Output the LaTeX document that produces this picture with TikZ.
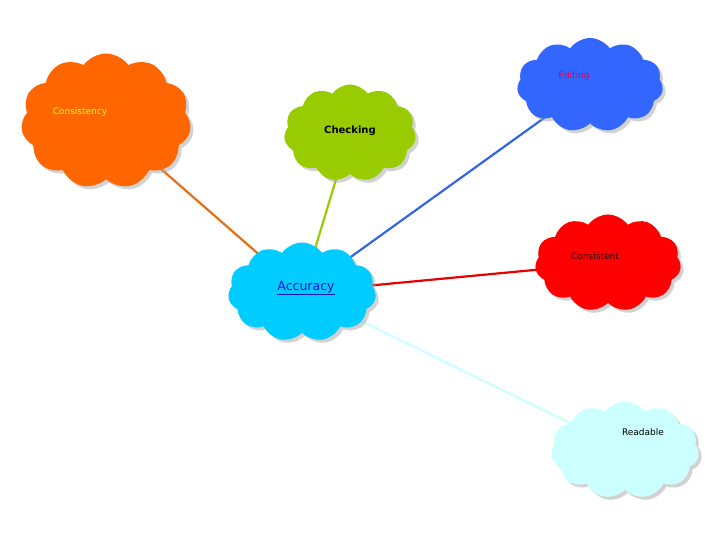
\documentclass[tikz,border=0pt]{standalone}
\usepackage{fontspec}
\setmainfont{DejaVu Sans}
\usetikzlibrary{shapes.symbols,shadows,backgrounds}
\definecolor{cOr}{RGB}{255,102,0}
\definecolor{cGr}{RGB}{153,204,0}
\definecolor{cBl}{RGB}{51,102,255}
\definecolor{cRd}{RGB}{255,0,0}
\definecolor{cCy}{RGB}{0,204,255}
\definecolor{cLc}{RGB}{204,255,255}
\definecolor{lOr}{RGB}{230,110,20}
\definecolor{lBl}{RGB}{51,102,230}
\definecolor{lRd}{RGB}{230,0,0}
\definecolor{tYe}{RGB}{255,255,0}
\definecolor{tMa}{RGB}{230,0,80}
\definecolor{tDk}{RGB}{60,0,0}
\definecolor{tAc}{RGB}{20,20,200}
\begin{document}
\begin{tikzpicture}[x=1pt,y=-1pt,
  cl/.style={cloud,cloud puffs=11,cloud puff arc=110,draw=none,fill=#1,
    drop shadow={shadow xshift=3pt,shadow yshift=-3pt,fill=gray!70}},
  ln/.style={line width=2.2pt,draw=#1},
  tx/.style={font=\fontsize{9}{11}\selectfont}]
\useasboundingbox (0,0) rectangle (720,540);
\node[cl=cOr,minimum width=170pt,minimum height=135pt] (cons) at (106,121) {};
\node[cl=cGr,minimum width=132pt,minimum height=97pt] (chk) at (350,133) {};
\node[cl=cBl,minimum width=146pt,minimum height=94pt] (edit) at (590,85) {};
\node[cl=cRd,minimum width=146pt,minimum height=97pt] (cst) at (608,263) {};
\node[cl=cCy,minimum width=148pt,minimum height=99pt] (acc) at (302,292) {};
\node[cl=cLc,minimum width=148pt,minimum height=97pt] (read) at (625,450) {};
\begin{pgfonlayer}{background}
\draw[ln=lOr] (cons.center) -- (acc.center);
\draw[ln=cGr] (chk.center) -- (acc.center);
\draw[ln=lBl] (edit.center) -- (acc.center);
\draw[ln=lRd] (cst.center) -- (acc.center);
\draw[ln=cLc] (read.center) -- (acc.center);
\end{pgfonlayer}
\node[tx,text=tYe] (tcons) at (80,112) {Consistency};
\node[font=\bfseries\fontsize{10}{12}\selectfont] (tchk) at (350,131) {Checking};
\node[tx,text=tMa] (tedit) at (574,76) {Editing};
\node[tx,text=tDk] (tcst) at (595,256) {Consistent};
\node[font=\fontsize{12.5}{14}\selectfont,text=tAc] (tacc) at (306,288) {\underline{Accuracy}};
\node[tx] (tread) at (643,432) {Readable};
\end{tikzpicture}
\end{document}
